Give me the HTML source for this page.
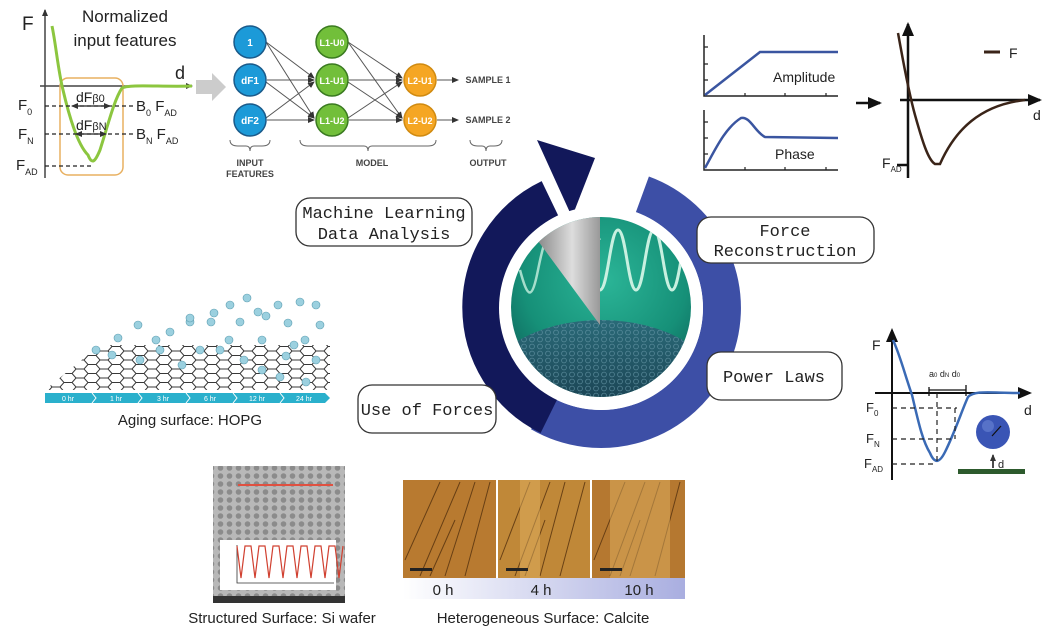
<!DOCTYPE html>
<html><head><meta charset="utf-8"><style>
html,body{margin:0;padding:0;background:#fff}
svg{display:block}
.s{font-family:"Liberation Sans",sans-serif}
.m{font-family:"Liberation Mono",monospace}
</style></head><body>
<svg width="1064" height="639" viewBox="0 0 1064 639" xmlns="http://www.w3.org/2000/svg">
<defs>
<marker id="ah" markerUnits="userSpaceOnUse" markerWidth="7" markerHeight="7" refX="6" refY="3.5" orient="auto"><path d="M0,0.5 L7,3.5 L0,6.5 z" fill="#333"/></marker>
<marker id="ahs" markerUnits="userSpaceOnUse" markerWidth="7" markerHeight="7" refX="1" refY="3.5" orient="auto"><path d="M7,0.5 L0,3.5 L7,6.5 z" fill="#333"/></marker>
<marker id="ahk" markerUnits="userSpaceOnUse" markerWidth="14" markerHeight="12" refX="12" refY="6" orient="auto"><path d="M0,0 L14,6 L0,12 z" fill="#111"/></marker>
<radialGradient id="gd" cx="0.5" cy="0.35" r="0.65"><stop offset="0" stop-color="#2bb597"/><stop offset="0.6" stop-color="#169078"/><stop offset="1" stop-color="#0c5a55"/></radialGradient>
<linearGradient id="hb" x1="0" y1="0" x2="0" y2="1"><stop offset="0" stop-color="#2a6a78"/><stop offset="1" stop-color="#0f2436"/></linearGradient>
<linearGradient id="cone" x1="0" y1="0" x2="1" y2="0"><stop offset="0" stop-color="#777"/><stop offset="0.6" stop-color="#ddd"/><stop offset="1" stop-color="#999"/></linearGradient>
<linearGradient id="bar" x1="0" y1="0" x2="1" y2="0"><stop offset="0" stop-color="#fff"/><stop offset="1" stop-color="#a9aee0"/></linearGradient>
<pattern id="hex" width="8" height="7" patternUnits="userSpaceOnUse"><circle cx="4" cy="3.5" r="2.4" fill="none" stroke="#6a9aaa" stroke-width="0.8"/></pattern>
<pattern id="dots" width="9" height="8" patternUnits="userSpaceOnUse"><circle cx="4.5" cy="4" r="2.8" fill="#555"/></pattern>
<pattern id="hop" width="24" height="9" patternUnits="userSpaceOnUse"><path d="M0,4.5 L4,0 H12 L16,4.5 L12,9 H4 Z M16,4.5 H24" fill="none" stroke="#222" stroke-width="1"/></pattern>
</defs>

<!-- TOP LEFT GRAPH -->
<g class="s">
<line x1="45" y1="178" x2="45" y2="10" stroke="#444" stroke-width="1.5" marker-end="url(#ah)"/>
<line x1="40" y1="86" x2="192" y2="86" stroke="#444" stroke-width="1.5" marker-end="url(#ah)"/>
<rect x="60" y="78" width="63" height="97" rx="8" fill="none" stroke="#e8b060" stroke-width="1.5"/>
<path d="M52,26 C56,45 58,70 63,90 C70,120 78,145 88,155 C92,165 95,162 100,150 C108,125 114,100 122,88 C130,84 160,87 192,86" fill="none" stroke="#8cc63f" stroke-width="3"/>
<g stroke="#222" stroke-width="1.3" stroke-dasharray="4,3"><line x1="45" y1="106" x2="135" y2="106"/><line x1="45" y1="134" x2="135" y2="134"/><line x1="45" y1="166" x2="92" y2="166"/></g>
<line x1="72" y1="106" x2="110" y2="106" stroke="#222" stroke-width="1.3" marker-start="url(#ahs)" marker-end="url(#ah)"/>
<line x1="76" y1="134" x2="106" y2="134" stroke="#222" stroke-width="1.3" marker-start="url(#ahs)" marker-end="url(#ah)"/>
<text x="22" y="30" font-size="19" fill="#222">F</text>
<text x="125" y="22" font-size="17" fill="#222" text-anchor="middle">Normalized</text>
<text x="125" y="46" font-size="17" fill="#222" text-anchor="middle">input features</text>
<text x="175" y="79" font-size="18" fill="#222">d</text>
<text x="76" y="102" font-size="14" fill="#222">dF<tspan font-size="11">β0</tspan></text>
<text x="76" y="130" font-size="14" fill="#222">dF<tspan font-size="11">βN</tspan></text>
<text x="18" y="110" font-size="15" fill="#222">F<tspan font-size="9" dy="5">0</tspan></text>
<text x="18" y="139" font-size="15" fill="#222">F<tspan font-size="9" dy="5">N</tspan></text>
<text x="16" y="170" font-size="15" fill="#222">F<tspan font-size="9" dy="5">AD</tspan></text>
<text x="136" y="111" font-size="15" fill="#222">B<tspan font-size="9" dy="5">0</tspan><tspan dy="-5"> F</tspan><tspan font-size="9" dy="5">AD</tspan></text>
<text x="136" y="139" font-size="15" fill="#222">B<tspan font-size="9" dy="5">N</tspan><tspan dy="-5"> F</tspan><tspan font-size="9" dy="5">AD</tspan></text>
<polygon points="196,80 212,80 212,73 226,87 212,101 212,94 196,94" fill="#ccc"/>
</g>

<!-- NN -->
<g class="s" font-weight="bold" font-size="10" text-anchor="middle">
<g stroke="#555" stroke-width="1" marker-end="url(#ah)">
<line x1="266" y1="42" x2="314" y2="78"/><line x1="266" y1="42" x2="314" y2="118"/>
<line x1="267" y1="80" x2="314" y2="80"/><line x1="266" y1="82" x2="314" y2="118"/>
<line x1="267" y1="120" x2="314" y2="120"/><line x1="266" y1="118" x2="314" y2="82"/>
<line x1="348" y1="42" x2="402" y2="78"/><line x1="348" y1="42" x2="402" y2="118"/>
<line x1="349" y1="80" x2="402" y2="80"/><line x1="348" y1="82" x2="402" y2="118"/>
<line x1="349" y1="120" x2="402" y2="120"/><line x1="348" y1="118" x2="402" y2="82"/>
<line x1="437" y1="80" x2="458" y2="80"/><line x1="437" y1="120" x2="458" y2="120"/>
</g>
<g stroke="#1a5a8a" stroke-width="1.5" fill="#1c9ad8"><circle cx="250" cy="42" r="16"/><circle cx="250" cy="80" r="16"/><circle cx="250" cy="120" r="16"/></g>
<g stroke="#3a7a20" stroke-width="1.5" fill="#72bf3a"><circle cx="332" cy="42" r="16"/><circle cx="332" cy="80" r="16"/><circle cx="332" cy="120" r="16"/></g>
<g stroke="#d08a10" stroke-width="1.5" fill="#f5a623"><circle cx="420" cy="80" r="16"/><circle cx="420" cy="120" r="16"/></g>
<g fill="#fff"><text x="250" y="46">1</text><text x="250" y="84">dF1</text><text x="250" y="124">dF2</text>
<text x="332" y="46" font-size="9">L1-U0</text><text x="332" y="84" font-size="9">L1-U1</text><text x="332" y="124" font-size="9">L1-U2</text>
<text x="420" y="84" font-size="9">L2-U1</text><text x="420" y="124" font-size="9">L2-U2</text></g>
<g fill="#444" font-size="9"><text x="488" y="83">SAMPLE 1</text><text x="488" y="123">SAMPLE 2</text>
<text x="250" y="166">INPUT</text><text x="250" y="177">FEATURES</text><text x="372" y="166">MODEL</text><text x="488" y="166">OUTPUT</text></g>
<g fill="none" stroke="#666" stroke-width="1">
<path d="M230,140 q0,6 8,6 h8 q4,0 4,5 q0,-5 4,-5 h8 q8,0 8,-6"/>
<path d="M300,140 q0,6 8,6 h56 q4,0 4,5 q0,-5 4,-5 h56 q8,0 8,-6"/>
<path d="M470,140 q0,6 8,6 h4 q4,0 4,5 q0,-5 4,-5 h4 q8,0 8,-6"/>
</g>
</g>

<!-- AMPLITUDE / PHASE -->
<g class="s" fill="none" stroke="#222" stroke-width="1.5">
<path d="M704,35 V96 H838"/><path d="M704,110 V170 H838"/>
<path d="M704,47h4M704,64h4M704,80h4M745,96v-3M785,96v-3M826,96v-3M704,122h4M704,138h4M704,154h4M745,170v-3M785,170v-3M826,170v-3" stroke-width="1.2"/>
</g>
<path d="M705,95 L760,52 L838,52" fill="none" stroke="#3a55a0" stroke-width="2.5"/>
<path d="M705,168 C715,150 725,128 741,118 C750,116 755,132 765,137 L838,138" fill="none" stroke="#3a55a0" stroke-width="2.5"/>
<text x="773" y="82" class="s" font-size="14" fill="#222">Amplitude</text>
<text x="775" y="159" class="s" font-size="14" fill="#222">Phase</text>
<line x1="856" y1="103" x2="880" y2="103" stroke="#111" stroke-width="2.5" marker-end="url(#ahk)"/>
<!-- Force graph -->
<line x1="908" y1="178" x2="908" y2="24" stroke="#111" stroke-width="2.5" marker-end="url(#ahk)"/>
<line x1="900" y1="100" x2="1040" y2="100" stroke="#111" stroke-width="2.5" marker-end="url(#ahk)"/>
<path d="M898,33 C903,60 908,90 915,115 C922,140 928,160 935,164 L940,164 C955,130 980,105 1025,100" fill="none" stroke="#3a2418" stroke-width="2.5"/>
<line x1="897" y1="165" x2="908" y2="165" stroke="#111" stroke-width="2.5"/>
<line x1="984" y1="52" x2="1000" y2="52" stroke="#3a2418" stroke-width="3"/>
<text x="1009" y="58" class="s" font-size="14" fill="#222">F</text>
<text x="1033" y="120" class="s" font-size="14" fill="#222">d</text>
<text x="882" y="168" class="s" font-size="14" fill="#222">F<tspan font-size="8" dy="4">AD</tspan></text>

<!-- RIGHT MIDDLE GRAPH -->
<g class="s">
<line x1="892" y1="480" x2="892" y2="330" stroke="#111" stroke-width="2" marker-end="url(#ahk)"/>
<line x1="875" y1="393" x2="1030" y2="393" stroke="#111" stroke-width="2" marker-end="url(#ahk)"/>
<path d="M893,340 C900,355 905,375 912,395 C918,420 922,440 930,453 C935,465 940,462 945,452 C955,432 962,410 968,397 C975,390 990,393 1020,393" fill="none" stroke="#3a6ab5" stroke-width="2.5"/>
<g stroke="#222" stroke-width="1.2" stroke-dasharray="5,4"><line x1="892" y1="408" x2="957" y2="408"/><line x1="892" y1="439" x2="955" y2="439"/><line x1="892" y1="464" x2="937" y2="464"/><line x1="937" y1="393" x2="937" y2="464"/><line x1="955" y1="408" x2="955" y2="439"/></g>
<path d="M929,387 V396 M929,390 H966 M966,385 V396" stroke="#111" stroke-width="1.3"/>
<text x="929" y="377" font-size="9" fill="#222">a<tspan font-size="6">0</tspan> d<tspan font-size="6">N</tspan>  d<tspan font-size="6">0</tspan></text>
<text x="872" y="350" font-size="14" fill="#222">F</text>
<text x="866" y="412" font-size="13" fill="#222">F<tspan font-size="8" dy="4">0</tspan></text>
<text x="866" y="443" font-size="13" fill="#222">F<tspan font-size="8" dy="4">N</tspan></text>
<text x="864" y="468" font-size="13" fill="#222">F<tspan font-size="8" dy="4">AD</tspan></text>
<text x="1024" y="415" font-size="14" fill="#222">d</text>
<circle cx="993" cy="432" r="17" fill="#3a55b5"/><circle cx="988" cy="426" r="6" fill="#6a85d5" opacity="0.6"/>
<line x1="992" y1="436" x2="1001" y2="426" stroke="#111" stroke-width="1.2"/>
<rect x="958" y="469" width="67" height="5" fill="#2d5a2d"/>
<line x1="993" y1="468" x2="993" y2="455" stroke="#111" stroke-width="1.5" marker-end="url(#ah)"/>
<text x="998" y="468" font-size="11" fill="#222">d</text>
</g>

<!-- HOPG -->
<polygon points="45,390 330,390 330,345 100,345" fill="url(#hop)" opacity="0.9"/>
<g fill="#9bd0df" stroke="#5c9db0" stroke-width="0.6">
<circle cx="96" cy="350" r="4"/><circle cx="118" cy="338" r="4"/><circle cx="138" cy="325" r="4"/><circle cx="156" cy="340" r="4"/><circle cx="170" cy="332" r="4"/><circle cx="190" cy="322" r="4"/><circle cx="190" cy="318" r="4"/><circle cx="211" cy="322" r="4"/><circle cx="230" cy="305" r="4"/><circle cx="214" cy="313" r="4"/><circle cx="258" cy="312" r="4"/><circle cx="247" cy="298" r="4"/><circle cx="278" cy="305" r="4"/><circle cx="300" cy="302" r="4"/><circle cx="316" cy="305" r="4"/><circle cx="288" cy="323" r="4"/><circle cx="320" cy="325" r="4"/><circle cx="305" cy="340" r="4"/><circle cx="262" cy="340" r="4"/><circle cx="229" cy="340" r="4"/><circle cx="200" cy="350" r="4"/><circle cx="182" cy="365" r="4"/><circle cx="244" cy="360" r="4"/><circle cx="286" cy="356" r="4"/><circle cx="316" cy="360" r="4"/><circle cx="280" cy="377" r="4"/><circle cx="306" cy="382" r="4"/><circle cx="262" cy="370" r="4"/><circle cx="140" cy="360" r="4"/><circle cx="112" cy="355" r="4"/><circle cx="160" cy="350" r="4"/><circle cx="220" cy="350" r="4"/><circle cx="266" cy="316" r="4"/><circle cx="240" cy="322" r="4"/><circle cx="294" cy="345" r="4"/>
</g>
<g class="s">
<polygon points="45,393 325,393 330,398 325,403 45,403" fill="#2ab0cc"/>
<g fill="none" stroke="#fff" stroke-width="1"><path d="M92,393l4,5l-4,5M138,393l4,5l-4,5M186,393l4,5l-4,5M233,393l4,5l-4,5M280,393l4,5l-4,5"/></g>
<g fill="#fff" font-size="7" text-anchor="middle"><text x="68" y="401">0 hr</text><text x="116" y="401">1 hr</text><text x="163" y="401">3 hr</text><text x="210" y="401">6 hr</text><text x="257" y="401">12 hr</text><text x="304" y="401">24 hr</text></g>
<text x="190" y="425" font-size="15" fill="#222" text-anchor="middle">Aging surface: HOPG</text>
</g>

<!-- SEM -->
<rect x="213" y="466" width="132" height="137" fill="#b8b8b8"/>
<rect x="213" y="466" width="132" height="130" fill="url(#dots)" opacity="0.45"/>
<rect x="213" y="596" width="132" height="7" fill="#333"/>
<line x1="238" y1="485" x2="333" y2="485" stroke="#e05040" stroke-width="2"/>
<rect x="220" y="540" width="116" height="50" fill="#fff"/>
<path d="M237,545 V583 H334" fill="none" stroke="#333" stroke-width="0.8"/>
<path d="M237,546 l4,32 l4,-32 l6,0 l4,32 l4,-32 l6,0 l4,32 l4,-32 l6,0 l4,32 l4,-32 l6,0 l4,32 l4,-32 l6,0 l4,32 l4,-32 l6,0 l4,32 l4,-32 l6,0 l4,32 l4,-32" fill="none" stroke="#d04030" stroke-width="1.2"/>
<text x="282" y="623" class="s" font-size="15" fill="#222" text-anchor="middle">Structured Surface: Si wafer</text>

<!-- Calcite -->
<rect x="403" y="578" width="282" height="21" fill="url(#bar)"/>
<g>
<rect x="403" y="480" width="93" height="98" fill="#b87a30"/>
<rect x="498" y="480" width="92" height="98" fill="#c08838"/>
<rect x="592" y="480" width="93" height="98" fill="#b57830"/>
<g stroke="#5a3510" stroke-width="1" fill="none" opacity="0.85">
<path d="M405,560 L440,482 M420,576 L460,482 M445,576 L475,482 M465,576 L490,482 M430,576 L455,520"/>
<path d="M500,560 L530,482 M515,576 L550,482 M540,576 L565,482 M560,576 L585,482 M525,576 L545,520"/>
<path d="M594,560 L625,482 M610,576 L645,482 M630,576 L660,482 M655,576 L680,482 M620,576 L640,520"/>
</g>
<g fill="#e0b060" opacity="0.5"><rect x="520" y="480" width="20" height="98"/><rect x="610" y="480" width="60" height="98"/></g>
<g fill="#222"><rect x="410" y="568" width="22" height="3"/><rect x="506" y="568" width="22" height="3"/><rect x="600" y="568" width="22" height="3"/></g>
</g>
<g class="s" font-size="15" fill="#222" text-anchor="middle"><text x="443" y="595">0 h</text><text x="541" y="595">4 h</text><text x="639" y="595">10 h</text></g>
<text x="543" y="623" class="s" font-size="15" fill="#222" text-anchor="middle">Heterogeneous Surface: Calcite</text>

<!-- CENTER RING -->
<path d="M642.4,194.3 A121,121 0 1 1 540.5,412.8" fill="none" stroke="#3d4fa6" stroke-width="38"/>
<path d="M549,416 A121,121 0 0 1 549.9,198.3" fill="none" stroke="#12185a" stroke-width="38"/>
<polygon points="537,140 595,158 572,217" fill="#12185a"/>
<circle cx="601" cy="308" r="102" fill="#fff"/>
<!-- green disk -->
<clipPath id="cd"><circle cx="601" cy="307" r="90"/></clipPath>
<g clip-path="url(#cd)">
<rect x="500" y="210" width="210" height="200" fill="url(#gd)"/>
<ellipse cx="601" cy="395" rx="120" ry="75" fill="url(#hb)"/>
<ellipse cx="601" cy="395" rx="120" ry="75" fill="url(#hex)" opacity="0.7"/>
<path d="M520,270 C528,300 532,300 538,270 S550,220 558,240 S568,290 575,275 S590,225 600,240" fill="none" stroke="#c8f0e0" stroke-width="2.5" opacity="0.8"/>
<path d="M600,290 C608,290 610,230 618,230 C626,230 628,290 636,290 C644,290 646,230 654,230 C662,230 664,290 672,290 C680,290 682,230 690,230 C698,230 700,290 708,290" fill="none" stroke="#c8f0e0" stroke-width="3"/>
<polygon points="530,230 600,210 600,325" fill="url(#cone)"/>
</g>

<!-- Boxes -->
<g class="m" font-size="17" fill="#222" text-anchor="middle">
<rect x="296" y="198" width="176" height="48" rx="14" fill="#fff" stroke="#333" stroke-width="1.3"/>
<text x="384" y="218">Machine Learning</text><text x="384" y="239">Data Analysis</text>
<rect x="697" y="217" width="177" height="46" rx="14" fill="#fff" stroke="#333" stroke-width="1.3"/>
<text x="785" y="236">Force</text><text x="785" y="256">Reconstruction</text>
<rect x="707" y="352" width="135" height="48" rx="14" fill="#fff" stroke="#333" stroke-width="1.3"/>
<text x="774" y="382">Power Laws</text>
<rect x="358" y="385" width="138" height="48" rx="14" fill="#fff" stroke="#333" stroke-width="1.3"/>
<text x="427" y="415">Use of Forces</text>
</g>
</svg>
</body></html>
